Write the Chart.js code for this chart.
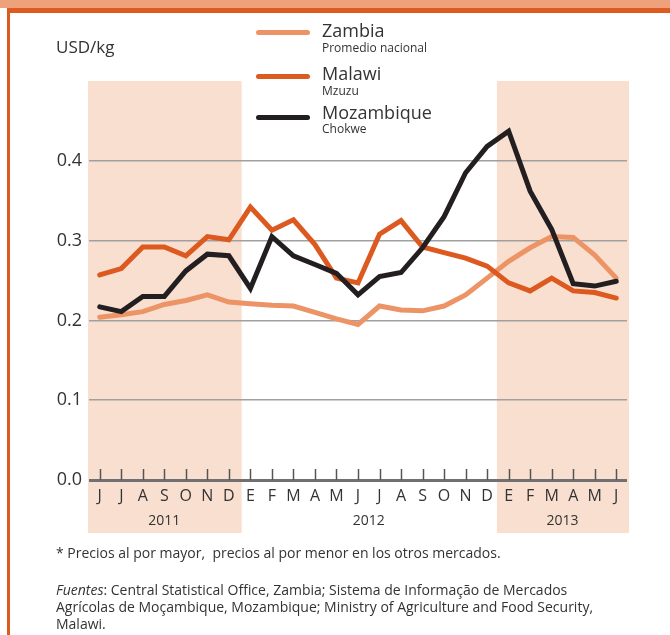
<!DOCTYPE html>
<html>
<head>
<meta charset="utf-8">
<script src="https://cdn.jsdelivr.net/npm/chart.js@4/dist/chart.umd.min.js"></script>
<style>
  body { margin: 0; width: 670px; height: 635px; position: relative; overflow: hidden; background: #fff;
         font-family: "Open Sans", sans-serif; color: #333; }
  #band { position: absolute; left: 0; top: 0; width: 670px; height: 8px; background: #eea27c; }
  #topline { position: absolute; left: 7px; top: 8px; width: 663px; height: 5px; background: #dd5a20; }
  #leftline { position: absolute; left: 7px; top: 8px; width: 3px; height: 627px; background: #dd5a20; }
  #chart { position: absolute; left: 0; top: 0; }
  .unit { position: absolute; left: 56px; top: 37px; font-size: 17px; line-height: 20px; }
  .sw { position: absolute; left: 256px; width: 54px; height: 5px; border-radius: 3px; }
  .name { position: absolute; left: 322px; font-size: 18px; line-height: 20px; }
  .sub { position: absolute; left: 322px; font-size: 12px; line-height: 14px; }
  .notes { position: absolute; left: 56px; font-size: 14px; line-height: 17px; }
</style>
</head>
<body>
<div id="band"></div>
<div id="topline"></div>
<div id="leftline"></div>
<canvas id="chart" width="670" height="635"></canvas>

<div class="unit">USD/kg</div>

<div class="sw" style="top:30px;background:#ec9466"></div>
<div class="name" style="top:20px">Zambia</div>
<div class="sub" style="top:41px">Promedio nacional</div>

<div class="sw" style="top:74px;background:#dc5a1f"></div>
<div class="name" style="top:63px">Malawi</div>
<div class="sub" style="top:84px">Mzuzu</div>

<div class="sw" style="top:115px;background:#231f20"></div>
<div class="name" style="top:102px">Mozambique</div>
<div class="sub" style="top:122px">Chokwe</div>

<div class="notes" style="top:544px">* Precios al por mayor,&nbsp; precios al por menor en los otros mercados.</div>
<div class="notes" style="top:581px"><i>Fuentes</i>: Central Statistical Office, Zambia; Sistema de Informação de Mercados<br>Agrícolas de Moçambique, Mozambique; Ministry of Agriculture and Food Security,<br>Malawi.</div>

<script>
// Monthly prices, June 2011 - June 2013
const months = ['J','J','A','S','O','N','D','E','F','M','A','M','J','J','A','S','O','N','D','E','F','M','A','M','J'];
const years = ['2011', '2012', '2013'];
const yearFirstMonth = [0, 7, 19];
const yearLastMonth = [6, 18, 24];
const shadedYears = ['2011', '2013'];
const yTicks = [0, 0.1, 0.2, 0.3, 0.4];

const zambia = [0.204, 0.207, 0.211, 0.220, 0.225, 0.232, 0.223, 0.221, 0.219, 0.218, 0.210, 0.202, 0.195,
                0.218, 0.213, 0.212, 0.218, 0.232, 0.253, 0.274, 0.291, 0.305, 0.304, 0.282, 0.253];
const malawi = [0.257, 0.265, 0.292, 0.292, 0.281, 0.305, 0.301, 0.342, 0.313, 0.326, 0.295, 0.253, 0.247,
                0.308, 0.325, 0.292, 0.285, 0.278, 0.268, 0.247, 0.237, 0.253, 0.237, 0.235, 0.228];
const mozambique = [0.217, 0.211, 0.230, 0.230, 0.262, 0.283, 0.281, 0.240, 0.305, 0.281, 0.270, 0.259, 0.232,
                    0.255, 0.260, 0.291, 0.330, 0.385, 0.418, 0.437, 0.362, 0.314, 0.246, 0.243, 0.249];

const font = '"Open Sans", sans-serif';

function yearEdges(x, i) {
  const half = (x.getPixelForValue(1) - x.getPixelForValue(0)) / 2;
  return [x.getPixelForValue(yearFirstMonth[i]) - half, x.getPixelForValue(yearLastMonth[i]) + half];
}

const decor = {
  id: 'decor',
  beforeDraw(chart) {
    const ctx = chart.ctx, x = chart.scales.x, area = chart.chartArea;
    ctx.save();
    ctx.fillStyle = '#f9dfcf';
    years.forEach((yr, i) => {
      if (!shadedYears.includes(yr)) return;
      const [x0, x1] = yearEdges(x, i);
      ctx.fillRect(x0 - 1, area.top, x1 - x0 + 3, area.bottom + 53 - area.top);
    });
    ctx.restore();
  },
  afterDraw(chart) {
    const ctx = chart.ctx, x = chart.scales.x, area = chart.chartArea;
    ctx.save();
    // tick marks pointing up from the axis
    ctx.strokeStyle = '#555';
    ctx.lineWidth = 1.5;
    months.forEach((m, i) => {
      const px = Math.round(x.getPixelForValue(i)) + 0.5;
      ctx.beginPath();
      ctx.moveTo(px, area.bottom);
      ctx.lineTo(px, area.bottom - 11);
      ctx.stroke();
    });
    // year labels
    ctx.fillStyle = '#333';
    ctx.font = '14px ' + font;
    ctx.textAlign = 'center';
    ctx.textBaseline = 'middle';
    years.forEach((yr, i) => {
      const [x0, x1] = yearEdges(x, i);
      ctx.fillText(yr, (x0 + x1) / 2, area.bottom + 41);
    });
    ctx.restore();
  }
};

new Chart(document.getElementById('chart'), {
  type: 'line',
  data: {
    labels: months,
    datasets: [
      { label: 'Zambia', data: zambia, borderColor: '#ec9466', order: 3 },
      { label: 'Malawi', data: malawi, borderColor: '#dc5a1f', order: 2 },
      { label: 'Mozambique', data: mozambique, borderColor: '#231f20', order: 1 }
    ]
  },
  options: {
    responsive: false,
    animation: false,
    layout: { padding: { left: 0, top: 81, right: 43, bottom: 100 } },
    elements: {
      line: { borderWidth: 5, tension: 0, borderCapStyle: 'round' },
      point: { radius: 0, hoverRadius: 0 }
    },
    plugins: { legend: { display: false }, tooltip: { enabled: false } },
    scales: {
      x: {
        type: 'category',
        offset: true,
        grid: { display: false, drawTicks: false },
        border: { display: false },
        ticks: { autoSkip: false, maxRotation: 0, padding: 7, color: '#333', font: { family: font, size: 16 } },
        afterFit(scale) { scale.height = 55; }
      },
      y: {
        min: 0,
        max: 0.5,
        afterBuildTicks(scale) { scale.ticks = yTicks.map(v => ({ value: v })); },
        grid: {
          drawTicks: false,
          color: c => (c.tick && c.tick.value === 0 ? '#707070' : '#a0a0a0'),
          lineWidth: c => (c.tick && c.tick.value === 0 ? 3 : 1.5)
        },
        border: { display: false },
        ticks: { padding: 7, color: '#333', font: { family: font, size: 18 }, callback: v => v.toFixed(1) },
        afterFit(scale) { scale.width = 89; }
      }
    }
  },
  plugins: [decor]
});
</script>
</body>
</html>
